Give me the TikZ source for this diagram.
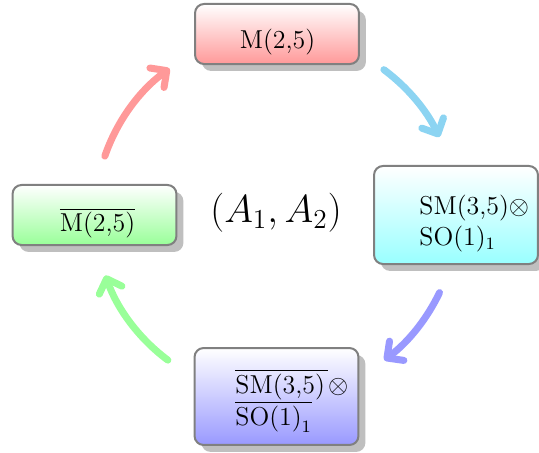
\RequirePackage{fix-cm}
\documentclass[tikz,border=0pt]{standalone}
\usetikzlibrary{shadows,arrows.meta}
\definecolor{arrowcyan}{RGB}{140,212,242}
\begin{document}
\begin{tikzpicture}[x=0.463pt,y=0.463pt,
  box/.style={draw=gray, line width=0.93pt, rounded corners=4.2pt, minimum width=75.9pt, inner sep=0pt,
    drop shadow={shadow xshift=3.2pt, shadow yshift=-3.2pt, fill=black!25, opacity=1}},
  boxtxt/.style={font=\large, inner sep=0pt},
  cyc/.style={line width=3.25pt, line cap=round, -{Straight Barb[length=5.6pt,width=11.1pt,round]}}
]
\useasboundingbox (0,0) rectangle (539,-453);
\coordinate (c) at (276,-215);
% boxes
\node[box, minimum height=27.8pt, top color=white, bottom color=red!40] (top) at (277,-34) {};
\node[box, minimum height=45.4pt, top color=white, bottom color=cyan!40] (right) at (456,-215) {};
\node[box, minimum height=44.9pt, top color=white, bottom color=blue!40] (bottom) at (276.5,-396.5) {};
\node[box, minimum height=27.8pt, top color=white, bottom color=green!40] (left) at (94.5,-215) {};
% texts
\node[boxtxt, anchor=base] (toptxt) at (277.5,-49) {M(2,5)};
\node[boxtxt, anchor=base] (lefttxt) at (97.5,-232) {$\overline{\mbox{M(2,5)}}$};
\node[boxtxt, anchor=base west] (righttxta) at (419,-215) {SM(3,5)$\otimes$};
\node[boxtxt, anchor=base west] (righttxtb) at (419,-246) {SO(1)$_1$};
\node[boxtxt, anchor=base west] (bottxta) at (235,-393) {$\overline{\mbox{SM(3,5)\kern1.5pt}}\otimes$};
\node[boxtxt, anchor=base west] (bottxtb) at (235,-425) {$\overline{\mbox{SO(1)}_1}$};
\node[font=\fontsize{18.1}{22}\selectfont, inner sep=0pt, anchor=base] (ctr) at (276,-223) {$(A_1,A_2)$};
% arrows
\draw[cyc, red!40] ([shift={(161:181)}]c) arc[start angle=161, end angle=126, radius=181];
\draw[cyc, arrowcyan] ([shift={(53.4:181)}]c) arc[start angle=53.4, end angle=25.5, radius=181];
\draw[cyc, blue!40] ([shift={(-25.4:181)}]c) arc[start angle=-25.4, end angle=-53.3, radius=181];
\draw[cyc, green!40] ([shift={(-126.7:181)}]c) arc[start angle=-126.7, end angle=-160.5, radius=181];
\end{tikzpicture}
\end{document}
